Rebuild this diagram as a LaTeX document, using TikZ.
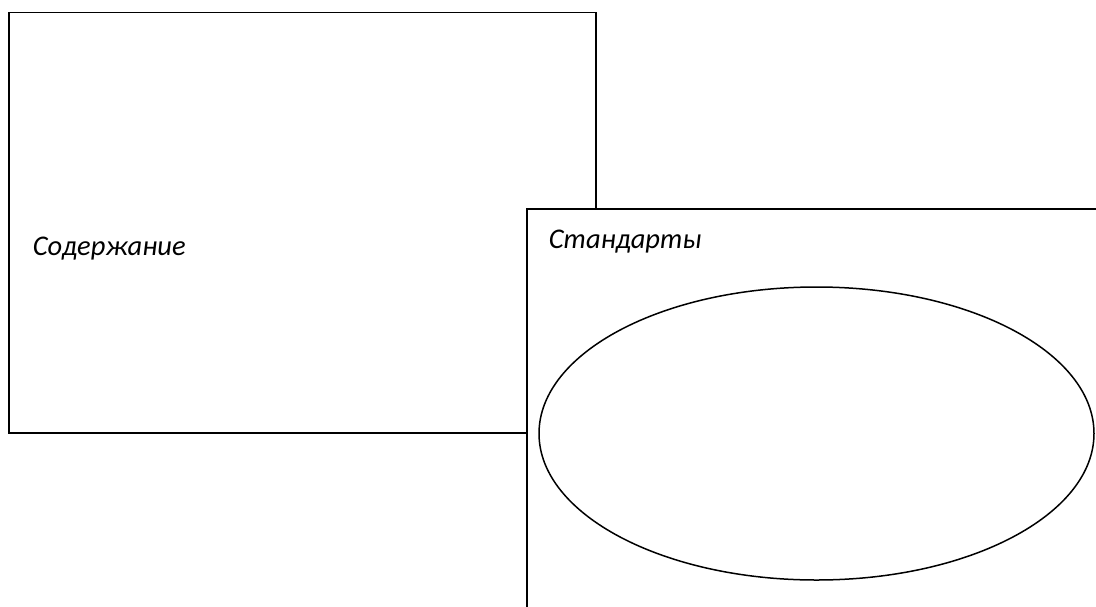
\documentclass[tikz,border=0pt]{standalone}
\usepackage{fontspec}
\setmainfont{Carlito}

\begin{document}
\begin{tikzpicture}[x=1pt, y=-1pt, line width=1.5pt,
    every node/.append style={font=\fontsize{28.5}{34}\selectfont\itshape, inner sep=0pt}]

    \clip (0,0) rectangle (1096,606);   % Page frame as large as the reference

    \def\cx{816.5}          % Centre of the ellipse
    \def\cy{433.5}

    % Back box with its label
    \draw[fill=white] (9,12.5) rectangle (596,433);
    \node[anchor=base west] (content) at (32,255) {Содержание};

    % Front box runs over the page edge
    \draw[fill=white] (527,209) rectangle (1110,620);
    \node[anchor=base west] (standards) at (548,248) {Стандарты};

    \draw (\cx,\cy) ellipse [x radius=277.5, y radius=146.5];

\end{tikzpicture}
\end{document}
